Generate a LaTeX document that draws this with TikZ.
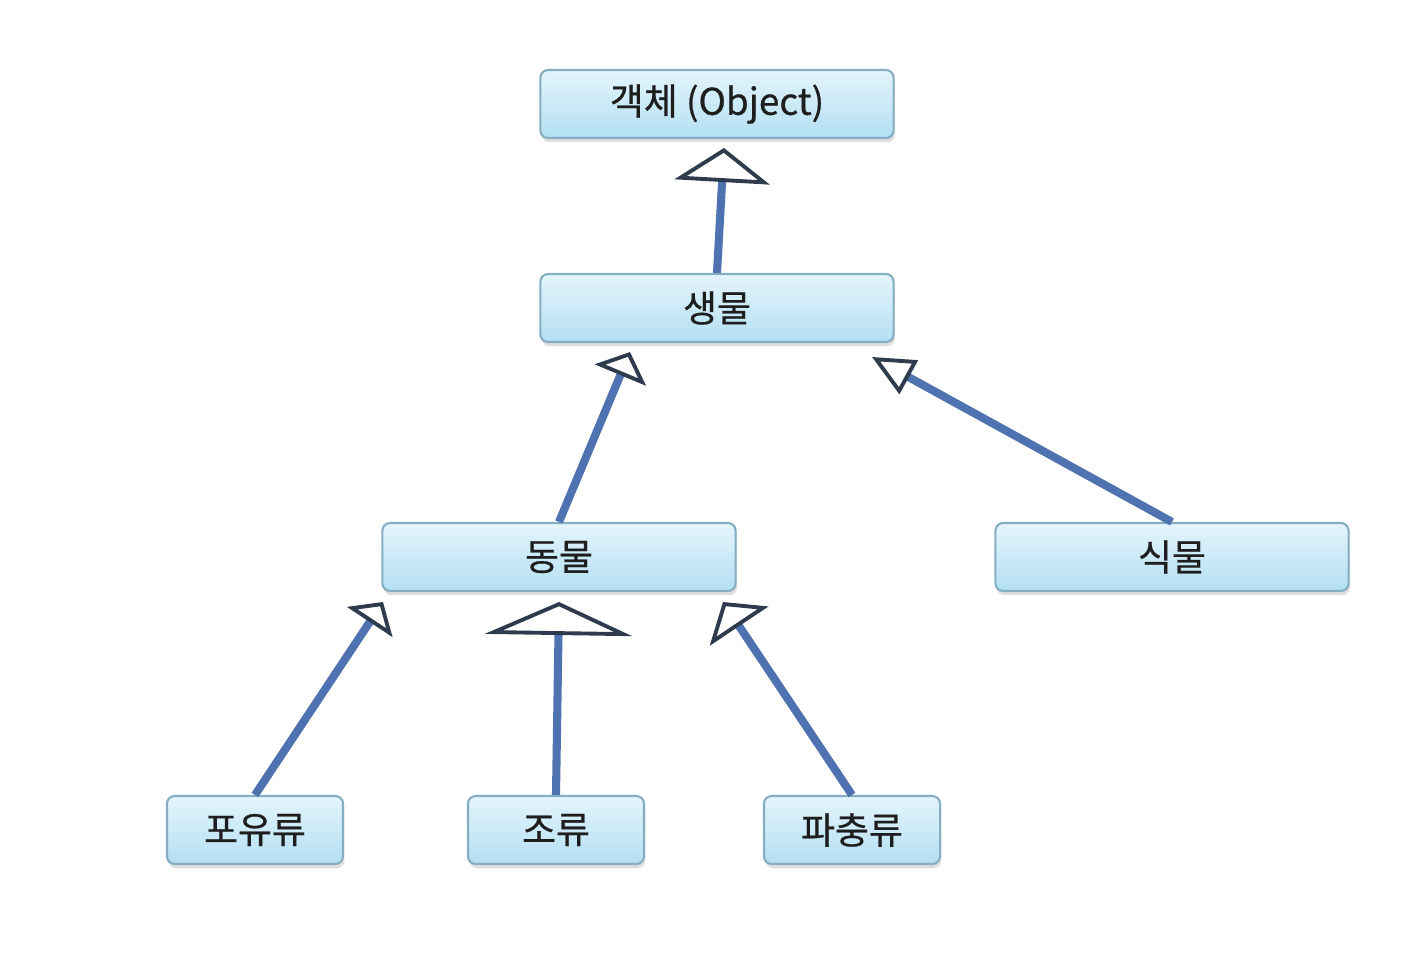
\documentclass[tikz,border=0pt]{standalone}
\usepackage{fontspec}
\newfontfamily\krfont[FakeBold=0.6]{Noto Sans CJK KR}
\usetikzlibrary{arrows.meta,shadows}
\definecolor{boxtop}{HTML}{E4F5FC}
\definecolor{boxbot}{HTML}{B3DFF3}
\definecolor{boxborder}{HTML}{86AEC2}
\definecolor{linkblue}{HTML}{4F72B0}
\definecolor{tipgray}{HTML}{2E3B4C}
\definecolor{txt}{HTML}{1E1E1E}
\tikzset{
  classbox/.style={draw=boxborder, line width=0.6pt, rounded corners=2.2pt,
    top color=boxtop, bottom color=boxbot,
    drop shadow={opacity=0.25, shadow xshift=0.4pt, shadow yshift=-1.2pt},
    minimum height=0.68cm, inner sep=0pt, font=\krfont\fontsize{10.5pt}{12pt}\selectfont, text=txt},
  widebox/.style={classbox, minimum width=3.53cm},
  smallbox/.style={classbox, minimum width=1.76cm},
  inherit/.style={draw=linkblue, line width=2.3pt},
  tri/.style n args={2}{-{Triangle[length=#1, width=#2, line width=1.1pt, color=tipgray, fill=white]}}
}
\begin{document}
\begin{tikzpicture}[x=0.01cm, y=-0.01cm]
\useasboundingbox (0,0) rectangle (1408,966);
\node[widebox] (obj) at (717,104) {객체 (Object)};
\node[widebox] (life) at (717,308) {생물};
\node[widebox] (ani) at (559,557) {동물};
\node[widebox] (plant) at (1172,557) {식물};
\node[smallbox] (mam) at (255,830) {포유류};
\node[smallbox] (bird) at (556,830) {조류};
\node[smallbox] (rep) at (852,830) {파충류};
\coordinate (t1) at (724,148);
\coordinate (t2) at (630,352);
\coordinate (t3) at (872,357);
\coordinate (t4) at (383,602);
\coordinate (t5) at (559,602);
\coordinate (t6) at (723,602);
\draw[inherit, tri={0.34cm}{0.95cm}] (life.north) -- (t1);
\draw[inherit, tri={0.25cm}{0.55cm}] (ani.north) -- (t2);
\draw[inherit, tri={0.42cm}{0.38cm}] (plant.north) -- (t3);
\draw[inherit, tri={0.24cm}{0.54cm}] (mam.north) -- (t4);
\draw[inherit, tri={0.33cm}{1.47cm}] (bird.north) -- (t5);
\draw[inherit, tri={0.29cm}{0.70cm}] (rep.north) -- (t6);
\end{tikzpicture}
\end{document}
